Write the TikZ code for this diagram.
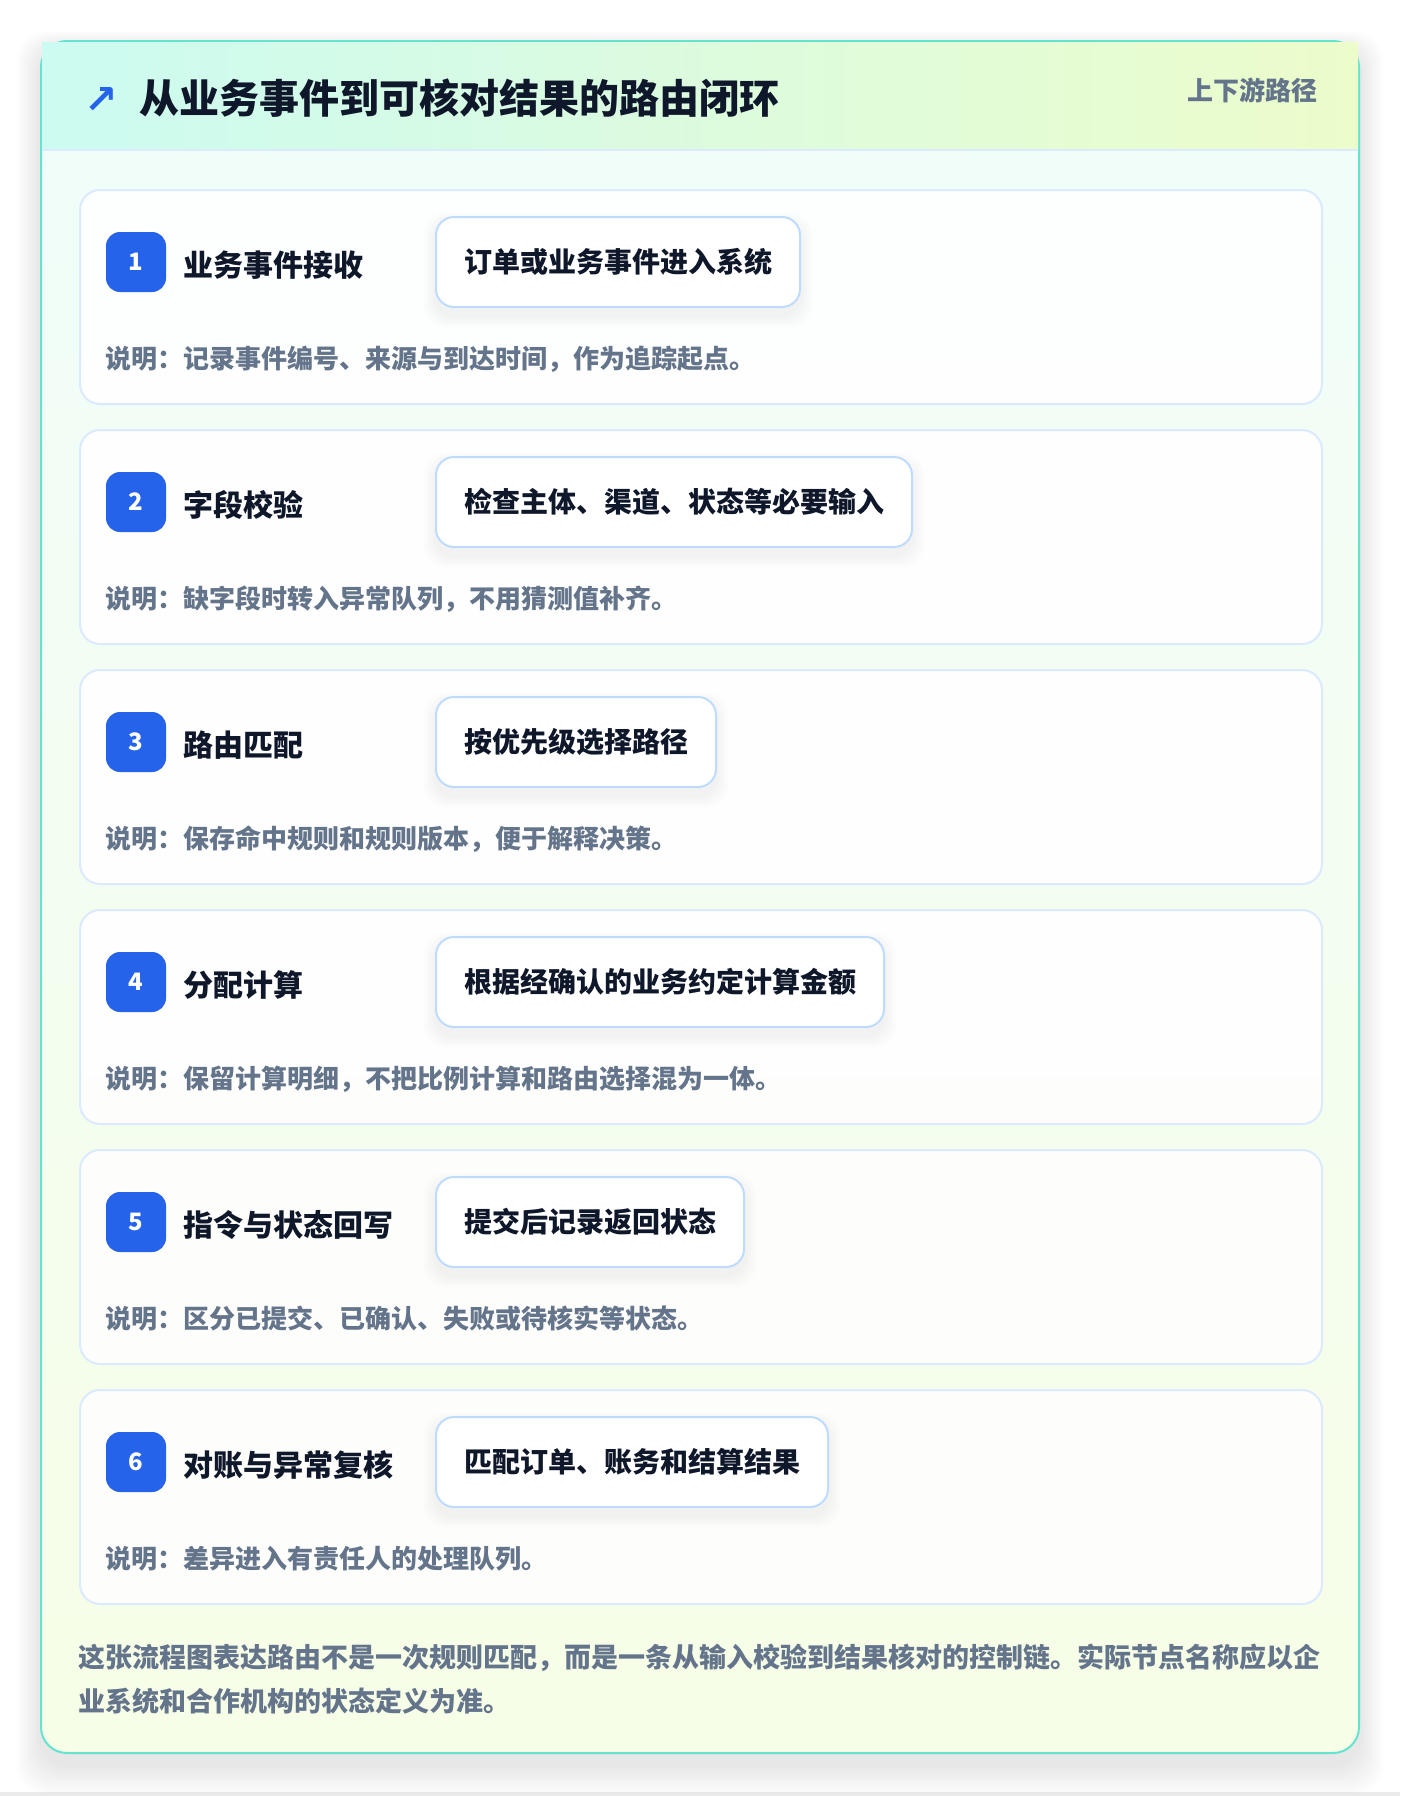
\documentclass[tikz,border=0pt]{standalone}
\usepackage{fontspec}
\setmainfont{Noto Sans CJK SC}
\newfontfamily\symfont{DejaVu Sans}
\definecolor{ink}{HTML}{0F172A}
\definecolor{muted}{HTML}{64748B}
\definecolor{accent}{HTML}{2563EB}
\definecolor{tealborder}{HTML}{64E3CF}
\definecolor{headL}{HTML}{CCFBF1}
\definecolor{headR}{HTML}{ECFCCB}
\definecolor{bodytop}{HTML}{F0FDFA}
\definecolor{bodybot}{HTML}{F7FEE7}
\definecolor{cardline}{HTML}{DBEAFE}
\definecolor{actline}{HTML}{BFDBFE}
\pgfdeclarelayer{back}
\pgfdeclarelayer{cards}
\pgfdeclarelayer{shade}
\pgfsetlayers{back,cards,shade,main}
\tikzset{
  cardbox/.style={draw=cardline, line width=2pt, fill=white, fill opacity=0.88, rounded corners=20pt,
    minimum width=1242pt, minimum height=214pt, anchor=north west, inner sep=0pt},
  badgebox/.style={fill=accent, rounded corners=14pt, minimum size=60pt, inner sep=0pt, text=white,
    font=\bfseries\fontsize{24}{24}\selectfont},
  steptitle/.style={anchor=base west, inner sep=0pt, text=ink, font=\bfseries\fontsize{30}{30}\selectfont},
  actbox/.style={draw=actline, line width=2pt, fill=white, rounded corners=18pt, minimum height=90pt,
    inner xsep=28pt, inner ysep=0pt, anchor=west, text=ink, font=\bfseries\fontsize{28}{28}\selectfont},
  desctext/.style={anchor=base west, inner sep=0pt, text=muted, font=\bfseries\fontsize{26}{26}\selectfont},
  foottext/.style={anchor=base west, inner sep=0pt, text=muted, font=\bfseries\fontsize{27}{27}\selectfont},
  softshade/.style={fill=black, opacity=0.0055, rounded corners=22pt},
}
\begin{document}
\begin{tikzpicture}[x=1pt,y=-1pt]
\useasboundingbox (0,0) rectangle (1400,1796);
\begin{pgfonlayer}{back}
\fill[white] (0,0) rectangle (1400,1796);
\fill[black!8] (0,1792) rectangle (1400,1796);
% outer soft shadow
\foreach \k in {1,...,12} {
  \fill[black, opacity=0.007, rounded corners=30pt] (41-2*\k, 49-1.5*\k) rectangle (1359+2*\k, 1765+2.5*\k);
}
% card body
\shade[top color=bodytop, bottom color=bodybot, rounded corners=26pt] (41,41) rectangle (1359,1753);
\draw[tealborder, line width=2pt, rounded corners=26pt] (41,41) rectangle (1359,1753);
% header
\shade[left color=headL, right color=headR] (42,42) rectangle (1358,150);
\draw[cardline, line width=2pt] (42,150) -- (1358,150);
\end{pgfonlayer}
\node[anchor=base west, inner sep=0pt, text=accent, font=\symfont\bfseries\fontsize{40}{40}\selectfont] (icon) at (84,113) {↗};
\node[anchor=base west, inner sep=0pt, text=ink, font=\bfseries\fontsize{40}{40}\selectfont] (title) at (139,113.5) {从业务事件到可核对结果的路由闭环};
\node[anchor=base east, inner sep=0pt, text=muted, font=\bfseries\fontsize{26}{26}\selectfont] (tag) at (1318,100) {上下游路径};
% steps
\foreach \i/\t/\a/\d [count=\n from 0] in {
  1/业务事件接收/订单或业务事件进入系统/说明：记录事件编号、来源与到达时间，作为追踪起点。,
  2/字段校验/检查主体、渠道、状态等必要输入/说明：缺字段时转入异常队列，不用猜测值补齐。,
  3/路由匹配/按优先级选择路径/说明：保存命中规则和规则版本，便于解释决策。,
  4/分配计算/根据经确认的业务约定计算金额/说明：保留计算明细，不把比例计算和路由选择混为一体。,
  5/指令与状态回写/提交后记录返回状态/说明：区分已提交、已确认、失败或待核实等状态。,
  6/对账与异常复核/匹配订单、账务和结算结果/说明：差异进入有责任人的处理队列。} {
  \pgfmathsetmacro\T{189+240*\n}
  \begin{pgfonlayer}{cards}
  \node[cardbox] (card\i) at (79,\T) {};
  \end{pgfonlayer}
  \node[badgebox] (badge\i) at (136,\T+73) {\i};
  \node[steptitle] (title\i) at (183,\T+87) {\t};
  \node[actbox] (act\i) at (435,\T+73) {\a};
  \begin{pgfonlayer}{shade}
  \foreach \k in {1,...,12} {
    \pgfmathsetmacro\up{\k-8}
    \pgfmathsetmacro\dn{-\k-8}
    \fill[softshade] ([xshift=-\k pt, yshift=\up pt]act\i.north west) rectangle ([xshift=\k pt, yshift=\dn pt]act\i.south east);
  }
  \end{pgfonlayer}
  \node[desctext] (desc\i) at (105,\T+179.5) {\d};
}
% footer
\node[foottext] (foot1) at (78,1667.5) {这张流程图表达路由不是一次规则匹配，而是一条从输入校验到结果核对的控制链。实际节点名称应以企};
\node[foottext] (foot2) at (78,1711) {业系统和合作机构的状态定义为准。};
\end{tikzpicture}
\end{document}
